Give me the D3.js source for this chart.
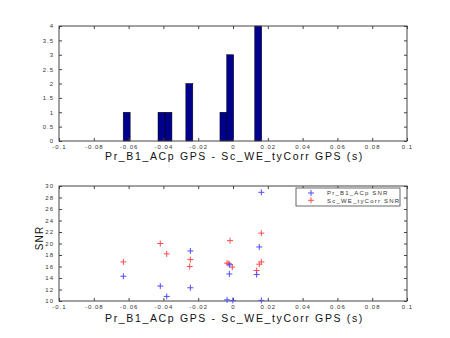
<!DOCTYPE html>
<html><head><meta charset="utf-8">
<script src="https://cdn.jsdelivr.net/npm/d3@7"></script>
<style>body{margin:0;background:#fff}svg{display:block}text{font-family:"Liberation Sans",Arial,sans-serif}</style>
</head><body><svg id="c" width="450" height="338"></svg>
<script>
// Histogram bins (left edge, width) and counts
const binLeft = [-0.0631, -0.0431, -0.0391, -0.0271, -0.0075, -0.0036, 0.0125];
const binWidth = 0.0040;
const binCount = [1, 1, 1, 2, 1, 3, 4];
// Scatter: offsets and SNR values
const blueX = [-0.063, -0.0418, -0.0381, -0.0245, -0.0245, -0.0034, -0.0019, -0.0021, -0.0001, 0.0136, 0.0151, 0.0163, 0.0163];
const blueY = [14.3, 12.6, 10.8, 18.7, 12.3, 10.2, 16.3, 14.7, 10.1, 14.6, 19.4, 28.9, 10.1];
const redX = [-0.063, -0.0418, -0.0381, -0.0245, -0.0249, -0.0034, -0.0017, -0.0024, -0.0004, 0.0136, 0.0151, 0.0163, 0.0163];
const redY = [16.8, 20.0, 18.2, 17.2, 16.0, 16.6, 20.5, 16.5, 15.9, 15.3, 16.4, 16.8, 21.8];
const xTicks = [-0.1, -0.08, -0.06, -0.04, -0.02, 0, 0.02, 0.04, 0.06, 0.08, 0.1];
const xTickLabels = ["-0.1", "-0.08", "-0.06", "-0.04", "-0.02", "0", "0.02", "0.04", "0.06", "0.08", "0.1"];
const histYTicks = [0, 0.5, 1, 1.5, 2, 2.5, 3, 3.5, 4];
const snrTicks = [10, 12, 14, 16, 18, 20, 22, 24, 26, 28, 30];
const xLabel = "Pr_B1_ACp GPS - Sc_WE_tyCorr GPS (s)";
const seriesNames = ["Pr_B1_ACp SNR", "Sc_WE_tyCorr SNR"];
const seriesColors = ["#4d4dff", "#ff4d4d"];

const svg = d3.select("#c");
const L = 59, R = 407;
const x = d3.scaleLinear().domain([-0.1, 0.1]).range([L, R]);
const yH = d3.scaleLinear().domain([0, 4]).range([141, 26]);
const yS = d3.scaleLinear().domain([10, 30]).range([301, 186]);
const fmt = d => d;

function frame(y, yTicks) {
  const g = svg.append("g");
  const [y0, y1] = y.range();
  const ax = (gen, tr) => {
    const a = g.append("g").attr("transform", tr).call(gen);
    a.select(".domain").remove();
    a.selectAll("line").attr("stroke", "#444");
    a.selectAll("text").attr("fill", "#333").style("font-size", "6px").style("letter-spacing", "1px");
    return a;
  };
  ax(d3.axisBottom(x).tickValues(xTicks).tickSize(-3).tickPadding(4).tickFormat((d, i) => xTickLabels[i]), `translate(0,${y0})`);
  ax(d3.axisTop(x).tickValues(xTicks).tickSize(-3).tickFormat(""), `translate(0,${y1})`);
  ax(d3.axisLeft(y).tickValues(yTicks).tickSize(-3).tickPadding(5).tickFormat(fmt), `translate(${L},0)`);
  ax(d3.axisRight(y).tickValues(yTicks).tickSize(-3).tickFormat(""), `translate(${R},0)`);
  g.append("rect").attr("x", L).attr("y", y1).attr("width", R - L).attr("height", y0 - y1)
    .attr("fill", "none").attr("stroke", "#444").attr("stroke-width", 1);
  return g;
}

// top histogram
svg.append("g").selectAll("rect").data(binLeft).join("rect")
  .attr("x", d => x(d)).attr("width", d => x(d + binWidth) - x(d))
  .attr("y", (d, i) => yH(binCount[i])).attr("height", (d, i) => yH(0) - yH(binCount[i]))
  .attr("fill", "#00008c").attr("stroke", "#000").attr("stroke-width", 0.5);
frame(yH, histYTicks);

// bottom scatter
frame(yS, snrTicks);
function plus(g, xs, ys, color) {
  g.selectAll("path").data(xs).join("path")
    .attr("d", (d, i) => { const px = x(d), py = yS(ys[i]); return `M${px - 3},${py}H${px + 3}M${px},${py - 3}V${py + 3}`; })
    .attr("stroke", color).attr("stroke-width", 1).attr("fill", "none");
}
plus(svg.append("g"), redX, redY, seriesColors[1]);
plus(svg.append("g"), blueX, blueY, seriesColors[0]);

// labels
[156, 318].forEach(yy => svg.append("text").attr("x", (L + R) / 2 + 1.5).attr("y", yy + 4)
  .attr("text-anchor", "middle").style("font-size", "10.5px").style("letter-spacing", "1.65px").attr("fill", "#111").text(xLabel));
svg.append("text").attr("transform", "translate(43,238) rotate(-90)").attr("text-anchor", "middle")
  .style("font-size", "10px").style("letter-spacing", "1.2px").attr("fill", "#111").text("SNR");

// legend
const lg = svg.append("g");
lg.append("rect").attr("x", 296).attr("y", 188).attr("width", 104).attr("height", 18)
  .attr("fill", "#fff").attr("stroke", "#444").attr("stroke-width", 0.8);
seriesNames.forEach((n, i) => {
  const yy = 193 + i * 7.3;
  lg.append("path").attr("d", `M${308},${yy}H${314}M${311},${yy - 3}V${yy + 3}`).attr("stroke", seriesColors[i]).attr("stroke-width", 1);
  lg.append("text").attr("x", 327).attr("y", yy + 2.2).style("font-size", "6px").style("letter-spacing", "1.2px").attr("fill", "#333").text(n);
});
</script></body></html>
